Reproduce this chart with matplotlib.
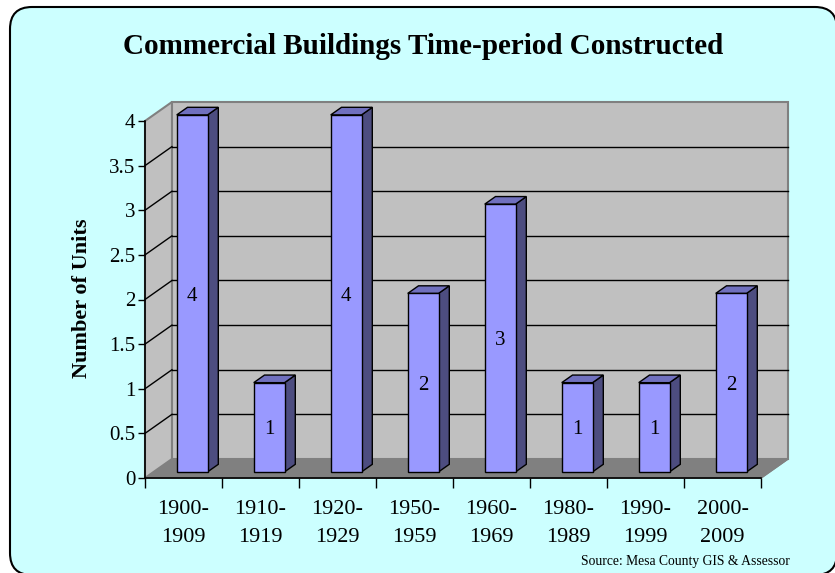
import numpy as np
import matplotlib
matplotlib.use('Agg')
import matplotlib.pyplot as plt
from matplotlib.patches import Polygon, FancyBboxPatch
from matplotlib.transforms import IdentityTransform

# data
periods = ['1900-\n1909', '1910-\n1919', '1920-\n1929', '1950-\n1959',
           '1960-\n1969', '1980-\n1989', '1990-\n1999', '2000-\n2009']
units = [4, 1, 4, 2, 3, 1, 1, 2]
yticks = [0, 0.5, 1, 1.5, 2, 2.5, 3, 3.5, 4]
ytick_labels = ['0', '0.5', '1', '1.5', '2', '2.5', '3', '3.5', '4']

title = 'Commercial Buildings Time-period Constructed'
ylabel = 'Number of Units'
source = 'Source: Mesa County GIS & Assessor'

plt.rcParams['font.family'] = ['Liberation Serif', 'DejaVu Serif']

# 3d look: wall depth in data units, bar placement inside that depth
DX, DY = 0.35, 0.213
bar_front = 0.32     # fraction of depth where bar front face sits
bar_depth = 0.40     # fraction of depth taken by the bar
bar_w = 0.40

face_col = '#9999FF'
side_col = '#4D4D80'
top_col = '#7070BE'
wall_col = '#C0C0C0'
floor_col = '#808080'
edge_col = '#808080'

fig = plt.figure(figsize=(8.35, 5.73), dpi=100)
fig.patch.set_facecolor('white')

# rounded cyan background
bg = FancyBboxPatch((10, -2), 827, 568, boxstyle='round,pad=0,rounding_size=22',
                    transform=IdentityTransform(), facecolor='#CCFFFF',
                    edgecolor='black', linewidth=1.5, zorder=-10)
fig.patches.append(bg)

ax = fig.add_axes([145 / 835, 95 / 573, 616 / 835, 357 / 573])
ax.set_facecolor('none')
n = len(units)
ax.set_xlim(0, n)
ax.set_ylim(0, 4)

def poly(pts, fc, ec, lw=1.0, z=1):
    ax.add_patch(Polygon(pts, closed=True, facecolor=fc, edgecolor=ec,
                         linewidth=lw, zorder=z, clip_on=False))

# floor, back wall, side wall
poly([(0, 0), (n, 0), (n + DX, DY), (DX, DY)], floor_col, floor_col, 1.0, 0.5)
poly([(DX, DY), (n + DX, DY), (n + DX, 4 + DY), (DX, 4 + DY)], wall_col, edge_col, 1.5, 0.6)
poly([(0, 0), (DX, DY), (DX, 4 + DY), (0, 4)], wall_col, edge_col, 1.5, 0.6)

# gridlines on the walls
for v in yticks[1:-1]:
    ax.plot([DX, n + DX], [v + DY, v + DY], color='black', lw=1.0, zorder=0.8, clip_on=False)
    ax.plot([0, DX], [v, v + DY], color='black', lw=1.0, zorder=0.8, clip_on=False)
ax.plot([n, n + DX], [0, DY], color=edge_col, lw=1.2, zorder=0.8, clip_on=False)

# bars
ox, oy = bar_front * DX, bar_front * DY
bx, by = bar_depth * DX, bar_depth * DY
for i, v in enumerate(units):
    cx = i + 0.5 + ox
    x0, x1 = cx - bar_w / 2, cx + bar_w / 2
    y0, y1 = oy, v + oy
    poly([(x1, y0), (x1 + bx, y0 + by), (x1 + bx, y1 + by), (x1, y1)], side_col, 'black', 1.0, 3)
    poly([(x0, y1), (x1, y1), (x1 + bx, y1 + by), (x0 + bx, y1 + by)], top_col, 'black', 1.0, 3)
    poly([(x0, y0), (x1, y0), (x1, y1), (x0, y1)], face_col, 'black', 1.0, 3)
    ax.text(cx, y0 + v / 2 - 0.03, str(v), ha='center', va='center', fontsize=15, zorder=4)

# axes
for s in ['top', 'right']:
    ax.spines[s].set_visible(False)
for s in ['left', 'bottom']:
    ax.spines[s].set_linewidth(1.2)
    ax.spines[s].set_zorder(5)
ax.set_yticks(yticks)
ax.set_yticklabels(ytick_labels)
ax.tick_params(axis='y', direction='out', length=5, width=1, pad=2, labelsize=15)
ax.set_xticks(np.arange(n + 1))
ax.set_xticklabels([])
ax.set_xticks(np.arange(n) + 0.5, minor=True)
ax.set_xticklabels(periods, minor=True, linespacing=1.6)
ax.tick_params(axis='x', which='major', direction='out', length=7, width=1)
ax.tick_params(axis='x', which='minor', length=0, pad=16, labelsize=16)

fig.text(0.507, 1 - 46 / 573, title, ha='center', va='center',
         fontsize=21, fontweight='bold')
fig.text(82 / 835, 1 - 298 / 573, ylabel, ha='center', va='center',
         rotation=90, fontsize=16, fontweight='bold')
fig.text(685 / 835, 1 - 561 / 573, source, ha='center', va='center', fontsize=9.8)

fig.savefig('out.png', dpi=100, facecolor=fig.get_facecolor())
